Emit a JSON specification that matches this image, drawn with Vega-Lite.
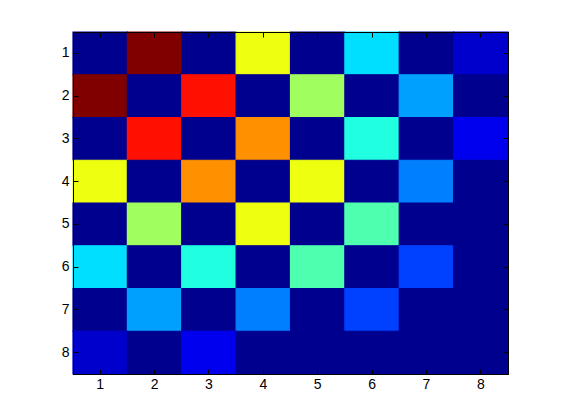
{
  "$schema": "https://vega.github.io/schema/vega-lite/v6.json",
  "width": 435,
  "height": 342,
  "autosize": "none",
  "padding": {"left": 73, "top": 32, "right": 53, "bottom": 46},
  "background": "white",
  "config": {
    "view": {"stroke": "black", "strokeWidth": 1, "fill": "#00008F"},
    "axis": {
      "labelFont": "Liberation Sans",
      "labelFontSize": 14,
      "labelColor": "black",
      "tickColor": "black",
      "domainColor": "black",
      "grid": false,
      "title": null
    }
  },
  "data": {
    "values": [
      {"row": 1, "col": 1, "v": 0}, {"row": 1, "col": 2, "v": 1}, {"row": 1, "col": 3, "v": 0}, {"row": 1, "col": 4, "v": 0.603}, {"row": 1, "col": 5, "v": 0}, {"row": 1, "col": 6, "v": 0.333}, {"row": 1, "col": 7, "v": 0}, {"row": 1, "col": 8, "v": 0.06},
      {"row": 2, "col": 1, "v": 1}, {"row": 2, "col": 2, "v": 0}, {"row": 2, "col": 3, "v": 0.857}, {"row": 2, "col": 4, "v": 0}, {"row": 2, "col": 5, "v": 0.524}, {"row": 2, "col": 6, "v": 0}, {"row": 2, "col": 7, "v": 0.27}, {"row": 2, "col": 8, "v": 0},
      {"row": 3, "col": 1, "v": 0}, {"row": 3, "col": 2, "v": 0.857}, {"row": 3, "col": 3, "v": 0}, {"row": 3, "col": 4, "v": 0.73}, {"row": 3, "col": 5, "v": 0}, {"row": 3, "col": 6, "v": 0.397}, {"row": 3, "col": 7, "v": 0}, {"row": 3, "col": 8, "v": 0.095},
      {"row": 4, "col": 1, "v": 0.603}, {"row": 4, "col": 2, "v": 0}, {"row": 4, "col": 3, "v": 0.73}, {"row": 4, "col": 4, "v": 0}, {"row": 4, "col": 5, "v": 0.603}, {"row": 4, "col": 6, "v": 0}, {"row": 4, "col": 7, "v": 0.238}, {"row": 4, "col": 8, "v": 0},
      {"row": 5, "col": 1, "v": 0}, {"row": 5, "col": 2, "v": 0.524}, {"row": 5, "col": 3, "v": 0}, {"row": 5, "col": 4, "v": 0.603}, {"row": 5, "col": 5, "v": 0}, {"row": 5, "col": 6, "v": 0.444}, {"row": 5, "col": 7, "v": 0}, {"row": 5, "col": 8, "v": 0},
      {"row": 6, "col": 1, "v": 0.333}, {"row": 6, "col": 2, "v": 0}, {"row": 6, "col": 3, "v": 0.397}, {"row": 6, "col": 4, "v": 0}, {"row": 6, "col": 5, "v": 0.444}, {"row": 6, "col": 6, "v": 0}, {"row": 6, "col": 7, "v": 0.175}, {"row": 6, "col": 8, "v": 0},
      {"row": 7, "col": 1, "v": 0}, {"row": 7, "col": 2, "v": 0.27}, {"row": 7, "col": 3, "v": 0}, {"row": 7, "col": 4, "v": 0.238}, {"row": 7, "col": 5, "v": 0}, {"row": 7, "col": 6, "v": 0.175}, {"row": 7, "col": 7, "v": 0}, {"row": 7, "col": 8, "v": 0},
      {"row": 8, "col": 1, "v": 0.06}, {"row": 8, "col": 2, "v": 0}, {"row": 8, "col": 3, "v": 0.095}, {"row": 8, "col": 4, "v": 0}, {"row": 8, "col": 5, "v": 0}, {"row": 8, "col": 6, "v": 0}, {"row": 8, "col": 7, "v": 0}, {"row": 8, "col": 8, "v": 0}
    ]
  },
  "layer": [
    {
      "mark": {"type": "rect", "strokeWidth": 1.2, "opacity": 1},
      "encoding": {
        "x": {"field": "col", "type": "ordinal", "scale": {"paddingInner": 0, "paddingOuter": 0},
              "axis": {"orient": "bottom", "labelAngle": 0, "tickSize": -5, "labelPadding": 8, "domain": true}},
        "y": {"field": "row", "type": "ordinal", "scale": {"paddingInner": 0, "paddingOuter": 0},
              "axis": {"orient": "left", "tickSize": -5, "labelPadding": 9, "domain": true}},
        "color": {
          "field": "v", "type": "quantitative", "legend": null,
          "scale": {"type": "linear", "domain": [0, 0.111, 0.365, 0.619, 0.873, 1],
                    "range": ["#00008F", "#0000FF", "#00FFFF", "#FFFF00", "#FF0000", "#800000"],
                    "interpolate": "rgb"}
        },
        "stroke": {
          "field": "v", "type": "quantitative", "legend": null,
          "scale": {"type": "linear", "domain": [0, 0.111, 0.365, 0.619, 0.873, 1],
                    "range": ["#00008F", "#0000FF", "#00FFFF", "#FFFF00", "#FF0000", "#800000"],
                    "interpolate": "rgb"}
        }
      }
    },
    {
      "mark": {"type": "rect", "opacity": 0},
      "encoding": {
        "x": {"field": "col", "type": "ordinal",
              "axis": {"orient": "top", "labels": false, "tickSize": -5, "domain": true}},
        "y": {"field": "row", "type": "ordinal",
              "axis": {"orient": "right", "labels": false, "tickSize": -5, "domain": true}}
      }
    }
  ],
  "resolve": {"axis": {"x": "independent", "y": "independent"}}
}
